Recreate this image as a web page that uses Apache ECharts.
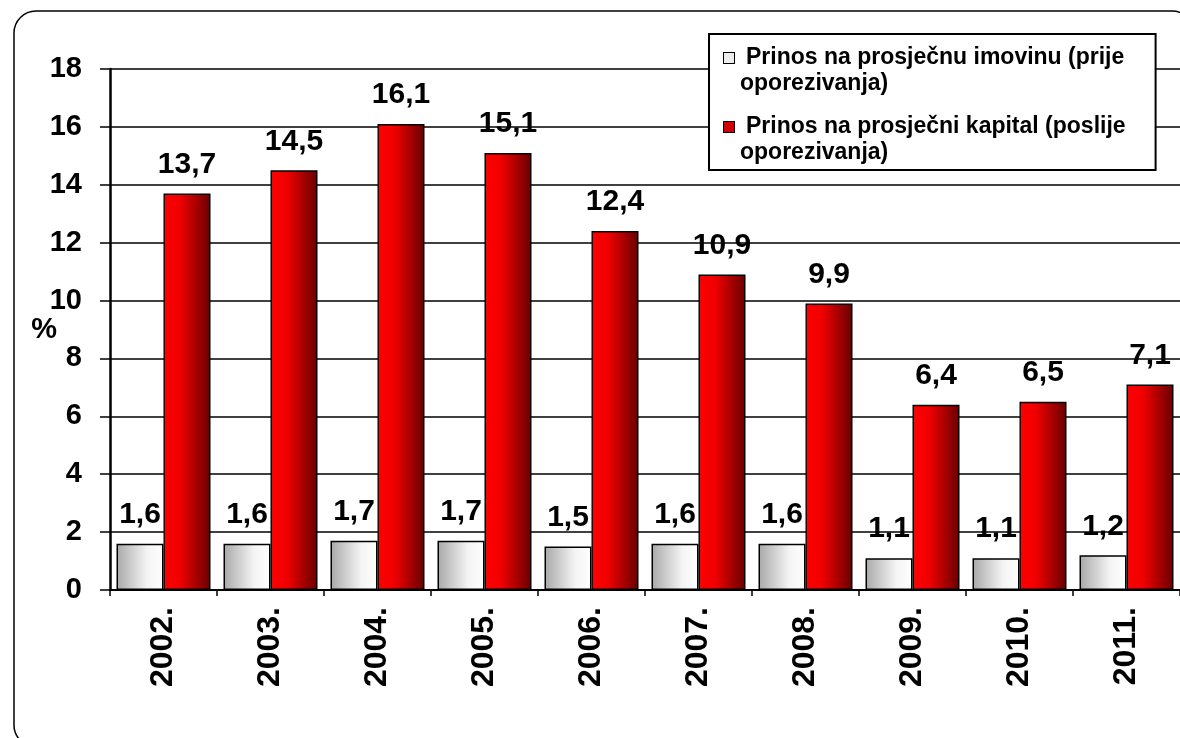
<!DOCTYPE html>
<html>
<head>
<meta charset="utf-8">
<script src="https://cdn.jsdelivr.net/npm/echarts@6/dist/echarts.min.js"></script>
<style>
  html, body { margin: 0; padding: 0; background: #fff; }
  #chart { width: 1180px; height: 738px; }
</style>
</head>
<body>
<div id="chart"></div>
<script>
// data
var years = ['2002.', '2003.', '2004.', '2005.', '2006.', '2007.', '2008.', '2009.', '2010.', '2011.'];
var imovina = [1.6, 1.6, 1.7, 1.7, 1.5, 1.6, 1.6, 1.1, 1.1, 1.2];
var kapital = [13.7, 14.5, 16.1, 15.1, 12.4, 10.9, 9.9, 6.4, 6.5, 7.1];
var seriesNames = ['Prinos na prosječnu imovinu (prije oporezivanja)', 'Prinos na prosječni kapital (poslije oporezivanja)'];
var legendLines = [['Prinos na prosječnu imovinu (prije', 'oporezivanja)'], ['Prinos na prosječni kapital (poslije', 'oporezivanja)']];
var yTicks = [0, 2, 4, 6, 8, 10, 12, 14, 16, 18];

var font = 'Arial, "Liberation Sans", sans-serif';

var chart = echarts.init(document.getElementById('chart'));

function fmt(v) {
    return String(v.toFixed(1)).replace('.', ',');
}

var grayFill = new echarts.graphic.LinearGradient(0, 0, 1, 0, [
    { offset: 0, color: '#a8a8a8' },
    { offset: 0.65, color: '#f4f4f4' },
    { offset: 1, color: '#ffffff' }
]);
var redFill = new echarts.graphic.LinearGradient(0, 0, 1, 0, [
    { offset: 0, color: '#ff0000' },
    { offset: 0.35, color: '#f00000' },
    { offset: 1, color: '#680000' }
]);

var labelStyle = {
    show: true,
    position: 'top',
    distance: 14,
    color: '#000',
    fontFamily: font,
    fontWeight: 'bold',
    fontSize: 30,
    formatter: function (p) { return fmt(p.value); }
};

chart.setOption({
    animation: false,
    backgroundColor: '#fff',
    textStyle: { fontFamily: font },
    grid: {
        left: 110,
        top: 69,
        width: 1075,
        height: 521
    },
    graphic: [{
        type: 'rect',
        shape: { x: 14, y: 11, width: 1180, height: 736, r: 22 },
        style: { fill: 'none', stroke: '#000', lineWidth: 1.5 },
        z: -1
    }],
    legend: {
        orient: 'vertical',
        left: 709,
        top: 34,
        itemWidth: 0,
        itemHeight: 0,
        itemGap: 17,
        padding: [11, 30, 4, 9],
        backgroundColor: '#fff',
        borderColor: '#000',
        borderWidth: 2,
        icon: 'rect',
        data: seriesNames,
        formatter: function (name) {
            var i = seriesNames.indexOf(name);
            var box = i === 0 ? '{b0|}' : '{b1|}';
            return box + '{t|' + legendLines[i][0] + '}\n{p|' + legendLines[i][1] + '}';
        },
        textStyle: {
            fontFamily: font,
            fontWeight: 'bold',
            fontSize: 23,
            color: '#000',
            lineHeight: 26,
            rich: {
                b0: { width: 10, height: 10, backgroundColor: '#eeeeee', borderColor: '#000', borderWidth: 1, padding: 0 },
                b1: { width: 10, height: 10, backgroundColor: '#d00000', borderColor: '#000', borderWidth: 1, padding: 0 },
                t: { fontFamily: font, fontWeight: 'bold', fontSize: 23, color: '#000', lineHeight: 26, padding: [0, 0, 0, 12] },
                p: { fontFamily: font, fontWeight: 'bold', fontSize: 23, color: '#000', lineHeight: 26, padding: [0, 0, 0, 16] }
            }
        }
    },
    xAxis: {
        type: 'category',
        data: years,
        axisLine: { lineStyle: { color: '#000', width: 2 } },
        axisTick: { show: true, length: 6, lineStyle: { color: '#000', width: 1.5 } },
        axisLabel: {
            rotate: 90,
            margin: 17,
            color: '#000',
            fontFamily: font,
            fontWeight: 'bold',
            fontSize: 32
        },
        splitLine: { show: false }
    },
    yAxis: {
        type: 'value',
        min: 0,
        max: 18,
        interval: 2,
        name: '%',
        nameLocation: 'middle',
        nameRotate: 0,
        nameGap: 53,
        nameMoveOverlap: false,
        nameTextStyle: { color: '#000', fontFamily: font, fontWeight: 'bold', fontSize: 29 },
        axisLine: { show: true, lineStyle: { color: '#000', width: 2.5 } },
        axisTick: { show: true, inside: false, length: 10, lineStyle: { color: '#000', width: 1.5 } },
        axisLabel: {
            margin: 28,
            color: '#000',
            fontFamily: font,
            fontWeight: 'bold',
            fontSize: 29,
            formatter: function (v) { return yTicks.indexOf(v) >= 0 ? String(v) : ''; }
        },
        splitLine: { show: true, lineStyle: { color: '#000', width: 1.5 } }
    },
    series: [{
        name: seriesNames[0],
        type: 'bar',
        data: imovina,
        barWidth: 47,
        barGap: '0%',
        itemStyle: { color: grayFill, borderColor: '#000', borderWidth: 1.5 },
        label: labelStyle
    }, {
        name: seriesNames[1],
        type: 'bar',
        data: kapital,
        barWidth: 47,
        barGap: '0%',
        itemStyle: { color: redFill, borderColor: '#000', borderWidth: 1.5 },
        label: labelStyle
    }]
});
</script>
</body>
</html>
